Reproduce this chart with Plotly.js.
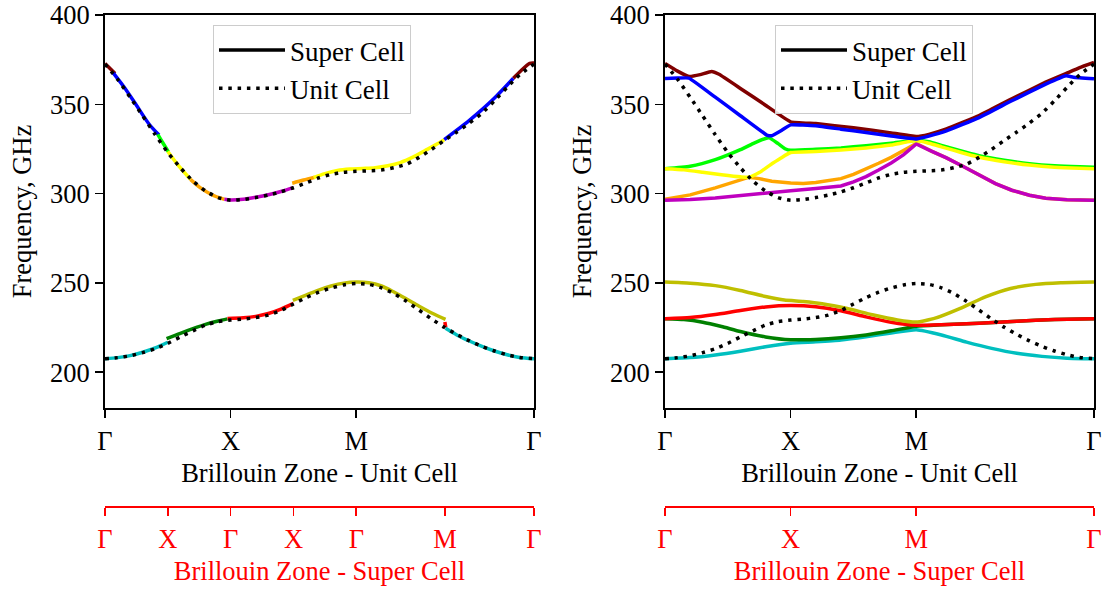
<!DOCTYPE html>
<html>
<head>
<meta charset="utf-8">
<script src="https://cdn.plot.ly/plotly-3.0.1.min.js"></script>
<style>
  html, body { margin: 0; padding: 0; background: #ffffff; }
  #chart { width: 1106px; height: 590px; }
</style>
</head>
<body>
<div id="chart"></div>
<script>
// ---------------- DATA ----------------
const K_END = 3.4142; // Γ-X-M-Γ path length (1 + 1 + √2)

// Tick labels
const unitTickVals = [0, 1, 2, K_END];
const unitTickText = ['Γ', 'X', 'M', 'Γ'];
const superTickValsLeft = [0, 0.5, 1, 1.5, 2, 2.7071, K_END];
const superTickTextLeft = ['Γ', 'X', 'Γ', 'X', 'Γ', 'M', 'Γ'];
const superTickValsRight = [0, 1, 2, K_END];
const superTickTextRight = ['Γ', 'X', 'M', 'Γ'];
const freqTickVals = [200, 250, 300, 350, 400];

// Unit cell dispersion (dotted), same in both panels
const ucK = [0, 0.1, 0.2, 0.3, 0.4, 0.5, 0.6, 0.7, 0.8, 0.9, 1.0, 1.1, 1.2, 1.3, 1.4, 1.5, 1.6, 1.7, 1.8, 1.9,
             2.0, 2.1, 2.2, 2.3, 2.4, 2.5, 2.6, 2.7, 2.8, 2.9, 3.0, 3.1, 3.2, 3.3, 3.4142];
const ucUpper = [372.5, 364.0, 354.0, 343.5, 333.0, 323.0, 314.5, 307.0, 301.5, 297.8, 296.3, 296.7, 297.8, 299.2, 301.0,
                 303.3, 306.0, 308.8, 310.8, 312.0, 312.5, 312.8, 313.2, 314.5, 316.5, 320.3, 324.8, 329.8, 334.5, 339.5,
                 345.0, 352.0, 359.5, 366.5, 372.5];
const ucLower = [207.6, 208.2, 209.2, 211.0, 213.2, 216.2, 219.8, 223.2, 226.4, 228.4, 229.2, 229.8, 230.6, 232.0, 234.6,
                 238.2, 241.8, 244.8, 247.2, 248.9, 249.7, 249.2, 247.3, 244.0, 239.7, 234.8, 229.8, 225.2, 221.2, 217.6,
                 214.5, 211.9, 209.8, 208.3, 207.6];

// Left panel: super cell bands unfolded onto the unit cell path (segments)
const lMaroonAx = [0, 0.04, 0.08];
const lMaroonAy = [372.9, 370.1, 367.3];
const lBlueAx = [0.065, 0.15, 0.25, 0.35, 0.43];
const lBlueAy = [367.6, 359.8, 349.5, 339.0, 332.8];
const lLimeAx = [0.42, 0.46, 0.505];
const lLimeAy = [333.2, 328.5, 323.4];
const lYellowAx = [0.5, 0.59, 0.68];
const lYellowAy = [323.6, 315.2, 308.0];
const lOrangeAx = [0.68, 0.76, 0.85, 0.95];
const lOrangeAy = [308.0, 303.2, 299.4, 296.8];
const lMagentaAx = [0.95, 1.0, 1.1, 1.2, 1.3, 1.4, 1.5];
const lMagentaAy = [296.8, 296.5, 296.9, 298.0, 299.4, 301.2, 303.4];
const lOrangeBx = [1.49, 1.58, 1.67];
const lOrangeBy = [305.8, 307.6, 309.2];
const lYellowBx = [1.66, 1.75, 1.85, 1.95, 2.05, 2.15, 2.25, 2.35, 2.45, 2.55, 2.63, 2.7];
const lYellowBy = [309.0, 311.2, 313.0, 313.8, 314.1, 314.5, 315.6, 317.4, 320.4, 324.2, 327.3, 330.2];
const lBlueBx = [2.7, 2.8, 2.9, 3.0, 3.1, 3.2, 3.25];
const lBlueBy = [330.2, 335.5, 341.0, 347.0, 353.5, 360.8, 364.6];
const lMaroonBx = [3.25, 3.31, 3.38, 3.4142];
const lMaroonBy = [364.6, 368.8, 372.9, 373.1];

const lCyanAx = [0, 0.1, 0.2, 0.3, 0.4, 0.5];
const lCyanAy = [207.6, 208.2, 209.3, 211.2, 213.6, 216.8];
const lGreenAx = [0.49, 0.6, 0.7, 0.8, 0.9, 0.975];
const lGreenAy = [218.8, 221.8, 224.4, 226.8, 228.7, 229.9];
const lRedAx = [0.975, 1.1, 1.2, 1.3, 1.4, 1.5];
const lRedAy = [230.1, 230.5, 231.3, 232.9, 235.4, 238.6];
const lOliveAx = [1.495, 1.6, 1.7, 1.8, 1.9, 2.0, 2.1, 2.2, 2.3, 2.4, 2.5, 2.6, 2.71];
const lOliveAy = [240.3, 243.2, 246.0, 248.3, 249.9, 250.5, 250.1, 248.3, 244.9, 241.0, 237.0, 233.2, 229.6];
const lRedBx = [2.705, 2.712];
const lRedBy = [228.2, 225.0];
const lCyanBx = [2.71, 2.8, 2.9, 3.0, 3.1, 3.2, 3.3, 3.4142];
const lCyanBy = [224.6, 220.9, 217.5, 214.5, 211.9, 209.8, 208.3, 207.6];

// Right panel: super cell bands along the path
const rMaroonX = [0, 0.1, 0.19, 0.28, 0.37, 0.43, 0.6, 0.8, 1.0, 1.2, 1.5, 1.8, 2.0, 2.1, 2.24, 2.5, 2.76, 3.03, 3.19, 3.3, 3.4142];
const rMaroonY = [372.9, 368.6, 365.6, 366.6, 368.4, 366.8, 358.9, 349.5, 340.2, 339.2, 336.9, 334.0, 332.0, 333.2, 336.2, 343.7, 353.1, 362.4, 367.2, 370.6, 373.5];
const rBlueX = [0, 0.1, 0.19, 0.4, 0.6, 0.81, 0.85, 0.93, 1.0, 1.2, 1.4, 1.6, 1.8, 2.0, 2.1, 2.24, 2.5, 2.76, 3.03, 3.19, 3.25, 3.4142];
const rBlueY = [364.5, 364.7, 364.7, 354.0, 343.6, 332.8, 332.4, 335.5, 338.5, 338.0, 336.1, 334.2, 332.3, 330.6, 332.2, 335.1, 342.6, 352.0, 361.3, 366.0, 365.2, 364.3];
const rLimeX = [0, 0.2, 0.4, 0.6, 0.7, 0.8, 0.83, 0.9, 0.96, 1.0, 1.2, 1.4, 1.6, 1.8, 2.0, 2.1, 2.2, 2.3, 2.4, 2.5, 2.7, 2.9, 3.1, 3.3, 3.4142];
const rLimeY = [313.9, 315.3, 319.0, 324.6, 328.0, 330.9, 331.2, 328.0, 325.0, 324.3, 324.8, 325.6, 326.8, 328.2, 329.9, 329.0, 327.0, 325.0, 323.0, 321.2, 318.7, 316.8, 315.6, 315.0, 314.8];
const rYellowX = [0, 0.15, 0.3, 0.45, 0.6, 0.67, 0.75, 0.83, 0.92, 1.0, 1.2, 1.4, 1.6, 1.8, 2.0, 2.1, 2.2, 2.3, 2.4, 2.5, 2.7, 2.9, 3.1, 3.3, 3.4142];
const rYellowY = [313.9, 313.3, 312.0, 310.6, 309.4, 309.2, 311.8, 315.7, 319.8, 323.0, 323.6, 324.4, 325.6, 327.2, 329.7, 328.2, 326.2, 324.2, 322.2, 320.4, 317.9, 316.0, 314.8, 314.2, 314.0];
const rOrangeX = [0, 0.2, 0.4, 0.55, 0.67, 0.75, 0.85, 1.0, 1.1, 1.2, 1.4, 1.5, 1.6, 1.7, 1.8, 1.9, 2.0, 2.12, 2.24, 2.37, 2.5, 2.63, 2.76, 2.9, 3.03, 3.2, 3.4142];
const rOrangeY = [296.9, 299.3, 303.2, 306.8, 309.2, 308.4, 306.9, 305.9, 305.7, 306.2, 308.4, 310.8, 313.7, 317.0, 320.3, 324.0, 328.1, 323.8, 320.0, 315.3, 310.3, 305.6, 301.9, 299.1, 297.4, 296.6, 296.3];
const rMagentaX = [0, 0.2, 0.4, 0.6, 0.8, 1.0, 1.2, 1.4, 1.5, 1.6, 1.7, 1.8, 1.9, 2.0, 2.12, 2.24, 2.37, 2.5, 2.63, 2.76, 2.9, 3.03, 3.2, 3.4142];
const rMagentaY = [296.3, 296.7, 297.6, 299.0, 300.6, 301.6, 302.9, 304.3, 306.6, 309.5, 313.2, 317.2, 321.8, 327.8, 323.8, 320.0, 315.3, 310.3, 305.6, 301.9, 299.1, 297.4, 296.6, 296.3];

const rOliveX = [0, 0.2, 0.4, 0.6, 0.8, 0.95, 1.1, 1.25, 1.45, 1.65, 1.85, 2.0, 2.15, 2.35, 2.55, 2.75, 2.95, 3.15, 3.4142];
const rOliveY = [250.5, 249.9, 248.5, 245.8, 242.4, 240.4, 239.6, 238.4, 235.7, 232.2, 229.3, 228.1, 230.3, 235.8, 242.2, 246.9, 249.2, 250.1, 250.5];
const rRedX = [0, 0.2, 0.4, 0.6, 0.8, 1.0, 1.2, 1.4, 1.6, 1.8, 2.0, 2.2, 2.5, 2.8, 3.1, 3.4142];
const rRedY = [230.0, 230.6, 232.3, 234.6, 236.6, 237.4, 236.7, 234.4, 231.0, 228.0, 226.3, 226.6, 227.5, 228.6, 229.5, 230.0];
const rGreenX = [0, 0.15, 0.3, 0.45, 0.6, 0.8, 1.0, 1.2, 1.4, 1.6, 1.8, 2.0, 2.2, 2.5, 2.8, 3.1, 3.4142];
const rGreenY = [230.0, 229.5, 228.0, 225.6, 222.8, 219.8, 218.2, 218.4, 219.3, 220.9, 223.2, 225.8, 226.6, 227.5, 228.6, 229.5, 230.0];
const rCyanX = [0, 0.2, 0.4, 0.6, 0.8, 1.0, 1.2, 1.4, 1.6, 1.8, 2.0, 2.2, 2.4, 2.6, 2.8, 3.0, 3.2, 3.4142];
const rCyanY = [207.6, 208.2, 209.7, 211.8, 214.3, 216.3, 217.1, 218.1, 219.9, 222.0, 223.8, 220.9, 216.9, 213.4, 210.6, 208.9, 207.9, 207.6];

// ---------------- STYLE ----------------
const FONT = 'Liberation Serif, Times New Roman, serif';
const FS = 26.5;
const LW = 3.5;
const C = {
  maroon: '#800000', blue: '#0000ff', lime: '#00ff00', yellow: '#ffff00', orange: '#ffa500',
  magenta: '#bf00bf', olive: '#bfbf00', red: '#ff0000', green: '#008000', cyan: '#00bfbf'
};

function band(x, y, color, xa, ya, shape, smooth) {
  return {
    type: 'scatter', mode: 'lines', x: x, y: y, xaxis: xa, yaxis: ya,
    line: {color: color, width: LW, shape: shape || 'linear', smoothing: smooth || 0.8},
    showlegend: false, hoverinfo: 'skip'
  };
}

const traces = [];
// Legend entry "Super Cell" (left and right legends)
traces.push({type: 'scatter', mode: 'lines', x: [null], y: [null], xaxis: 'x', yaxis: 'y',
  line: {color: 'black', width: LW}, name: 'Super Cell', legend: 'legend', showlegend: true, hoverinfo: 'skip'});
traces.push({type: 'scatter', mode: 'lines', x: [null], y: [null], xaxis: 'x2', yaxis: 'y2',
  line: {color: 'black', width: LW}, name: 'Super Cell', legend: 'legend2', showlegend: true, hoverinfo: 'skip'});

// Left panel segments
const SP = 'spline';
traces.push(band(lMaroonAx, lMaroonAy, C.maroon, 'x', 'y', SP));
traces.push(band(lBlueAx, lBlueAy, C.blue, 'x', 'y', SP));
traces.push(band(lLimeAx, lLimeAy, C.lime, 'x', 'y', SP));
traces.push(band(lYellowAx, lYellowAy, C.yellow, 'x', 'y', SP));
traces.push(band(lOrangeAx, lOrangeAy, C.orange, 'x', 'y', SP));
traces.push(band(lMagentaAx, lMagentaAy, C.magenta, 'x', 'y', SP));
traces.push(band(lOrangeBx, lOrangeBy, C.orange, 'x', 'y', SP));
traces.push(band(lYellowBx, lYellowBy, C.yellow, 'x', 'y', SP));
traces.push(band(lBlueBx, lBlueBy, C.blue, 'x', 'y', SP));
traces.push(band(lMaroonBx, lMaroonBy, C.maroon, 'x', 'y', SP));
traces.push(band(lCyanAx, lCyanAy, C.cyan, 'x', 'y', SP));
traces.push(band(lGreenAx, lGreenAy, C.green, 'x', 'y', SP));
traces.push(band(lRedAx, lRedAy, C.red, 'x', 'y', SP));
traces.push(band(lOliveAx, lOliveAy, C.olive, 'x', 'y', SP));
traces.push(band(lRedBx, lRedBy, C.red, 'x', 'y'));
traces.push(band(lCyanBx, lCyanBy, C.cyan, 'x', 'y', SP));

// Right panel bands
const RS = 0.5;
traces.push(band(rCyanX, rCyanY, C.cyan, 'x2', 'y2', SP, RS));
traces.push(band(rGreenX, rGreenY, C.green, 'x2', 'y2', SP, RS));
traces.push(band(rRedX, rRedY, C.red, 'x2', 'y2', SP, RS));
traces.push(band(rOliveX, rOliveY, C.olive, 'x2', 'y2', SP, RS));
traces.push(band(rOrangeX, rOrangeY, C.orange, 'x2', 'y2', 'linear'));
traces.push(band(rMagentaX, rMagentaY, C.magenta, 'x2', 'y2', 'linear'));
traces.push(band(rLimeX, rLimeY, C.lime, 'x2', 'y2', SP, RS));
traces.push(band(rYellowX, rYellowY, C.yellow, 'x2', 'y2', SP, RS));
traces.push(band(rMaroonX, rMaroonY, C.maroon, 'x2', 'y2', SP, 0.3));
traces.push(band(rBlueX, rBlueY, C.blue, 'x2', 'y2', SP, 0.3));

// Unit cell dotted lines (on top)
function dot(y, xa, ya, leg, show) {
  return {
    type: 'scatter', mode: 'lines', x: ucK, y: y, xaxis: xa, yaxis: ya,
    line: {color: 'black', width: LW, dash: '3.5px,5.8px', shape: 'spline', smoothing: 0.6},
    name: 'Unit Cell', legend: leg, showlegend: show, hoverinfo: 'skip'
  };
}
traces.push(dot(ucUpper, 'x', 'y', 'legend', true));
traces.push(dot(ucLower, 'x', 'y', 'legend', false));
traces.push(dot(ucUpper, 'x2', 'y2', 'legend2', true));
traces.push(dot(ucLower, 'x2', 'y2', 'legend2', false));

// empty traces registering the super-cell axes
traces.push({type: 'scatter', mode: 'lines', x: [], y: [], xaxis: 'x3', yaxis: 'y', showlegend: false, hoverinfo: 'skip'});
traces.push({type: 'scatter', mode: 'lines', x: [], y: [], xaxis: 'x4', yaxis: 'y2', showlegend: false, hoverinfo: 'skip'});

// ---------------- LAYOUT ----------------
const W = 1106, H = 590;
const xDomL = [105 / W, 534 / W];
const xDomR = [665 / W, 1094 / W];
const yDom = [1 - 408 / H, 1 - 15 / H];
const superPos = 1 - 507 / H;

function tfont(color) { return {family: FONT, size: FS, color: color || 'black'}; }
function baseAxis() {
  return {
    showline: true, linecolor: 'black', linewidth: 2, mirror: true,
    ticks: 'outside', ticklen: 8, tickwidth: 1.6, tickcolor: 'black',
    tickfont: tfont(), showgrid: false, zeroline: false, fixedrange: true, automargin: false
  };
}
function xUnit(dom, anchor) {
  return Object.assign(baseAxis(), {
    domain: dom, anchor: anchor, range: [0, K_END], tickmode: 'array',
    tickvals: unitTickVals, ticktext: unitTickText,
    title: {text: 'Brillouin Zone - Unit Cell', font: tfont(), standoff: 9}
  });
}
function yFreq(anchor) {
  return Object.assign(baseAxis(), {
    domain: yDom, anchor: anchor, range: [180, 400], tickmode: 'array', tickvals: freqTickVals,
    title: {text: 'Frequency, GHz', font: tfont(), standoff: 11}
  });
}
function xSuper(over, vals, text) {
  return {
    overlaying: over, anchor: 'free', position: superPos, side: 'bottom',
    range: [0, K_END], showline: true, linecolor: '#ff0000', linewidth: 2,
    ticks: 'outside', ticklen: 8, tickwidth: 1.6, tickcolor: '#ff0000',
    tickmode: 'array', tickvals: vals, ticktext: text, tickfont: tfont('#ff0000'),
    showgrid: false, zeroline: false, fixedrange: true, automargin: false,
    title: {text: 'Brillouin Zone - Super Cell', font: tfont('#ff0000'), standoff: 8}
  };
}
function legendBox(xpx) {
  return {
    x: xpx / W, y: 1 - 25 / H, xanchor: 'left', yanchor: 'top',
    bgcolor: 'rgba(255,255,255,0.85)', bordercolor: '#cccccc', borderwidth: 1,
    font: {family: FONT, size: 27, color: 'black'}, itemwidth: 66, tracegroupgap: 0
  };
}

const layout = {
  width: W, height: H,
  margin: {l: 0, r: 0, t: 0, b: 0, pad: 0},
  paper_bgcolor: '#ffffff', plot_bgcolor: '#ffffff',
  font: {family: FONT, size: FS, color: 'black'},
  showlegend: true,
  xaxis: xUnit(xDomL, 'y'),
  yaxis: yFreq('x'),
  xaxis2: xUnit(xDomR, 'y2'),
  yaxis2: yFreq('x2'),
  xaxis3: xSuper('x', superTickValsLeft, superTickTextLeft),
  xaxis4: xSuper('x2', superTickValsRight, superTickTextRight),
  legend: legendBox(213),
  legend2: legendBox(775)
};

Plotly.newPlot('chart', traces, layout, {displayModeBar: false, staticPlot: true});
</script>
</body>
</html>
